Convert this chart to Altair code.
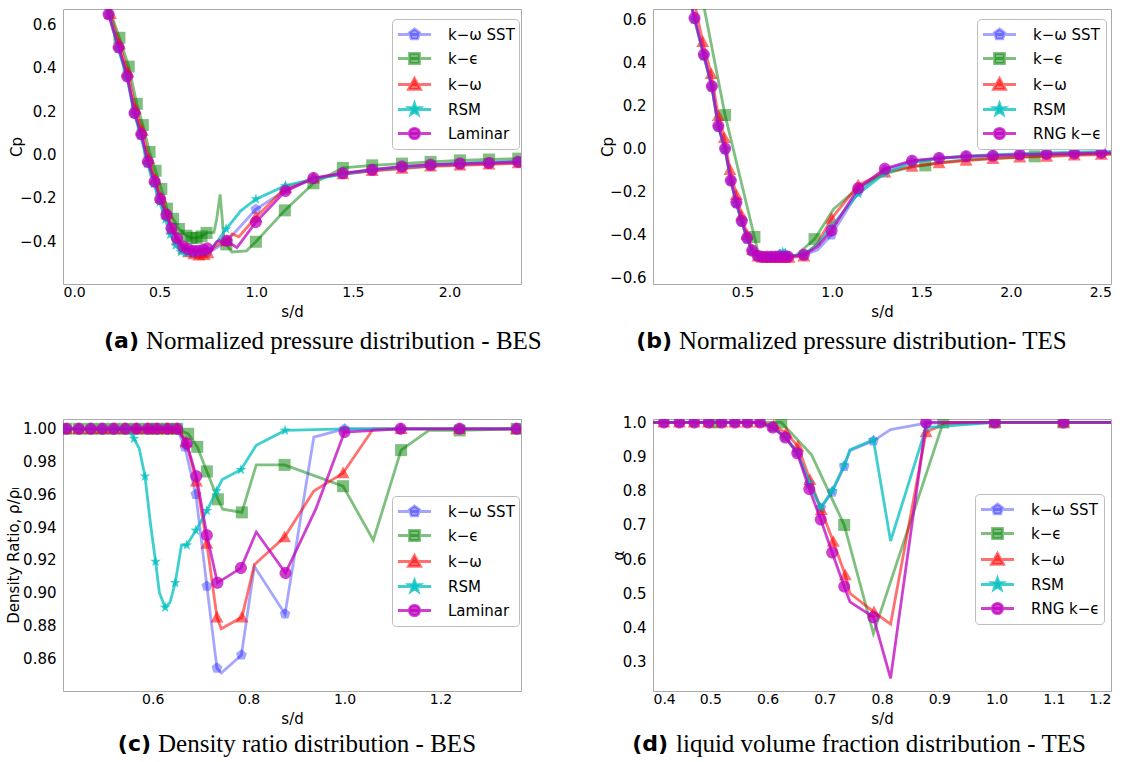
import altair as alt
import pandas as pd

# ---------------- Panel (a): Cp, BES ----------------
A_SST_X = [0.20, 0.236, 0.288, 0.332, 0.370, 0.405, 0.439, 0.474, 0.503, 0.535, 0.561, 0.590, 0.622, 0.648, 0.674, 0.700, 0.726, 0.747, 0.780, 0.847, 0.920, 0.998, 1.151, 1.296, 1.448, 1.600, 1.754, 1.902, 2.054, 2.204, 2.356, 2.40]
A_SST_Y = [0.76, 0.645, 0.490, 0.360, 0.190, 0.090, -0.040, -0.130, -0.210, -0.285, -0.350, -0.400, -0.435, -0.450, -0.455, -0.458, -0.455, -0.450, -0.440, -0.400, -0.330, -0.253, -0.165, -0.112, -0.090, -0.075, -0.062, -0.053, -0.047, -0.042, -0.038, -0.037]
A_SST_NOMARK = [0, 18, 20, 31]

A_KE_X = [0.20, 0.245, 0.292, 0.340, 0.382, 0.413, 0.448, 0.479, 0.509, 0.538, 0.570, 0.600, 0.639, 0.665, 0.691, 0.717, 0.743, 0.781, 0.795, 0.813, 0.833, 0.845, 0.874, 0.950, 0.998, 1.148, 1.296, 1.448, 1.600, 1.754, 1.902, 2.054, 2.204, 2.356, 2.40]
A_KE_Y = [0.85, 0.660, 0.539, 0.406, 0.234, 0.136, 0.012, -0.075, -0.159, -0.250, -0.297, -0.344, -0.375, -0.385, -0.385, -0.378, -0.362, -0.360, -0.300, -0.184, -0.390, -0.415, -0.450, -0.445, -0.403, -0.258, -0.133, -0.062, -0.050, -0.042, -0.034, -0.027, -0.023, -0.019, -0.018]
A_KE_NOMARK = [0, 1, 17, 18, 19, 20, 22, 23, 34]

A_KW_X = [0.20, 0.245, 0.292, 0.336, 0.375, 0.410, 0.443, 0.478, 0.507, 0.539, 0.565, 0.594, 0.626, 0.652, 0.678, 0.704, 0.730, 0.750, 0.780, 0.820, 0.849, 0.875, 0.910, 0.998, 1.151, 1.296, 1.448, 1.600, 1.754, 1.902, 2.054, 2.204, 2.356, 2.40]
A_KW_Y = [0.79, 0.650, 0.510, 0.380, 0.210, 0.110, -0.020, -0.115, -0.200, -0.275, -0.345, -0.395, -0.435, -0.450, -0.460, -0.465, -0.463, -0.455, -0.430, -0.405, -0.400, -0.367, -0.380, -0.290, -0.155, -0.110, -0.090, -0.075, -0.065, -0.055, -0.050, -0.045, -0.040, -0.039]
A_KW_NOMARK = [0, 18, 19, 21, 22, 33]

A_RSM_X = [0.20, 0.240, 0.285, 0.330, 0.368, 0.402, 0.436, 0.470, 0.500, 0.530, 0.555, 0.583, 0.610, 0.635, 0.660, 0.685, 0.710, 0.735, 0.760, 0.800, 0.844, 0.920, 0.998, 1.151, 1.296, 1.448, 1.600, 1.754, 1.902, 2.054, 2.204, 2.356, 2.40]
A_RSM_Y = [0.77, 0.645, 0.490, 0.360, 0.190, 0.090, -0.040, -0.135, -0.220, -0.300, -0.370, -0.420, -0.450, -0.455, -0.455, -0.452, -0.450, -0.445, -0.440, -0.400, -0.344, -0.260, -0.206, -0.144, -0.115, -0.090, -0.070, -0.058, -0.048, -0.040, -0.035, -0.030, -0.029]
A_RSM_NOMARK = [0, 18, 19, 21, 32]

A_LAM_X = [0.20, 0.236, 0.288, 0.332, 0.370, 0.405, 0.439, 0.474, 0.503, 0.535, 0.561, 0.590, 0.622, 0.648, 0.674, 0.700, 0.726, 0.747, 0.770, 0.795, 0.809, 0.830, 0.847, 0.900, 0.998, 1.151, 1.296, 1.448, 1.600, 1.754, 1.902, 2.054, 2.204, 2.356, 2.40]
A_LAM_Y = [0.76, 0.648, 0.495, 0.362, 0.192, 0.094, -0.034, -0.125, -0.206, -0.278, -0.341, -0.387, -0.425, -0.437, -0.445, -0.445, -0.440, -0.434, -0.437, -0.403, -0.398, -0.414, -0.398, -0.430, -0.312, -0.169, -0.109, -0.086, -0.070, -0.055, -0.047, -0.042, -0.039, -0.034, -0.033]
A_LAM_NOMARK = [0, 18, 19, 20, 21, 23, 34]

# ---------------- Panel (b): Cp, TES ----------------
B_SST_X = [0.20, 0.232, 0.284, 0.329, 0.365, 0.403, 0.435, 0.466, 0.496, 0.526, 0.554, 0.585, 0.610, 0.635, 0.660, 0.685, 0.710, 0.735, 0.755, 0.843, 0.920, 0.998, 1.147, 1.296, 1.448, 1.599, 1.750, 1.900, 2.050, 2.200, 2.355, 2.506, 2.56]
B_SST_Y = [0.71, 0.600, 0.430, 0.285, 0.100, -0.005, -0.150, -0.255, -0.340, -0.420, -0.476, -0.500, -0.503, -0.503, -0.503, -0.503, -0.490, -0.490, -0.500, -0.495, -0.470, -0.400, -0.200, -0.100, -0.060, -0.045, -0.037, -0.033, -0.029, -0.026, -0.023, -0.020, -0.020]
B_SST_NOMARK = [0, 20, 32]

B_KE_X = [0.27, 0.403, 0.567, 0.590, 0.650, 0.720, 0.800, 0.903, 1.010, 1.150, 1.300, 1.450, 1.522, 1.600, 1.750, 1.900, 2.050, 2.133, 2.200, 2.350, 2.500, 2.56]
B_KE_Y = [0.72, 0.155, -0.410, -0.490, -0.500, -0.500, -0.495, -0.420, -0.280, -0.180, -0.115, -0.085, -0.078, -0.065, -0.052, -0.045, -0.040, -0.036, -0.033, -0.028, -0.025, -0.024]
B_KE_NOMARK = [0, 3, 4, 5, 6, 8, 9, 10, 11, 13, 14, 15, 16, 18, 19, 20, 21]

B_KW_X = [0.22, 0.278, 0.325, 0.365, 0.399, 0.430, 0.466, 0.496, 0.526, 0.556, 0.587, 0.612, 0.637, 0.662, 0.687, 0.712, 0.737, 0.760, 0.843, 0.920, 0.998, 1.147, 1.296, 1.448, 1.599, 1.750, 1.900, 2.050, 2.200, 2.355, 2.506, 2.56]
B_KW_Y = [0.72, 0.495, 0.347, 0.152, 0.050, -0.098, -0.215, -0.310, -0.400, -0.470, -0.500, -0.505, -0.505, -0.505, -0.505, -0.505, -0.505, -0.505, -0.500, -0.440, -0.325, -0.170, -0.110, -0.083, -0.067, -0.056, -0.047, -0.040, -0.037, -0.031, -0.028, -0.027]
B_KW_NOMARK = [0, 19, 31]

B_RSM_X = [0.20, 0.232, 0.284, 0.329, 0.365, 0.403, 0.435, 0.466, 0.496, 0.526, 0.554, 0.585, 0.610, 0.635, 0.660, 0.685, 0.710, 0.725, 0.740, 0.770, 0.843, 0.920, 0.998, 1.147, 1.296, 1.448, 1.599, 1.750, 1.900, 2.050, 2.200, 2.355, 2.506, 2.56]
B_RSM_Y = [0.71, 0.600, 0.430, 0.285, 0.100, -0.005, -0.150, -0.255, -0.340, -0.420, -0.476, -0.500, -0.503, -0.503, -0.503, -0.500, -0.490, -0.480, -0.485, -0.500, -0.490, -0.445, -0.360, -0.210, -0.115, -0.065, -0.045, -0.035, -0.028, -0.024, -0.020, -0.017, -0.014, -0.013]
B_RSM_NOMARK = [0, 19, 21, 33]

B_RNG_X = [0.20, 0.232, 0.284, 0.329, 0.365, 0.403, 0.435, 0.466, 0.496, 0.526, 0.554, 0.585, 0.610, 0.635, 0.660, 0.685, 0.710, 0.735, 0.755, 0.843, 0.920, 0.998, 1.147, 1.296, 1.448, 1.599, 1.750, 1.900, 2.050, 2.200, 2.355, 2.506, 2.56]
B_RNG_Y = [0.72, 0.605, 0.436, 0.289, 0.105, 0.000, -0.148, -0.250, -0.336, -0.414, -0.473, -0.497, -0.502, -0.502, -0.502, -0.502, -0.502, -0.502, -0.502, -0.492, -0.455, -0.380, -0.184, -0.094, -0.056, -0.044, -0.036, -0.033, -0.028, -0.025, -0.023, -0.020, -0.020]
B_RNG_NOMARK = [0, 20, 32]

# ---------------- Panel (c): density ratio, BES ----------------
C_SST_X = [0.400, 0.420, 0.446, 0.471, 0.495, 0.519, 0.543, 0.566, 0.590, 0.609, 0.631, 0.651, 0.667, 0.690, 0.713, 0.734, 0.743, 0.785, 0.812, 0.876, 0.936, 1.000, 1.117, 1.240, 1.359, 1.370]
C_SST_Y = [1.0, 1.0, 1.0, 1.0, 1.0, 1.0, 1.0, 1.0, 1.0, 1.0, 1.0, 1.0, 0.989, 0.960, 0.904, 0.854, 0.851, 0.862, 0.916, 0.887, 0.995, 1.0, 1.0, 1.0, 1.0, 1.0]
C_SST_NOMARK = [0, 16, 18, 20, 25]

C_KE_X = [0.400, 0.420, 0.446, 0.471, 0.495, 0.519, 0.543, 0.566, 0.590, 0.609, 0.631, 0.651, 0.674, 0.693, 0.713, 0.736, 0.746, 0.786, 0.816, 0.875, 0.997, 1.060, 1.118, 1.176, 1.240, 1.359, 1.370]
C_KE_Y = [1.0, 1.0, 1.0, 1.0, 1.0, 1.0, 1.0, 1.0, 1.0, 1.0, 1.0, 1.0, 0.997, 0.989, 0.974, 0.957, 0.951, 0.949, 0.978, 0.978, 0.965, 0.932, 0.987, 0.999, 0.999, 1.0, 1.0]
C_KE_NOMARK = [0, 16, 18, 21, 23, 26]

C_KW_X = [0.400, 0.420, 0.446, 0.471, 0.495, 0.519, 0.543, 0.566, 0.590, 0.609, 0.631, 0.651, 0.670, 0.691, 0.713, 0.734, 0.743, 0.786, 0.812, 0.875, 0.936, 0.997, 1.060, 1.118, 1.240, 1.359, 1.370]
C_KW_Y = [1.0, 1.0, 1.0, 1.0, 1.0, 1.0, 1.0, 1.0, 1.0, 1.0, 1.0, 1.0, 0.992, 0.968, 0.930, 0.885, 0.878, 0.885, 0.917, 0.934, 0.962, 0.973, 1.0, 1.0, 1.0, 1.0, 1.0]
C_KW_NOMARK = [0, 16, 18, 20, 22, 26]

C_RSM_X = [0.400, 0.420, 0.446, 0.471, 0.495, 0.519, 0.543, 0.550, 0.561, 0.572, 0.584, 0.595, 0.606, 0.614, 0.626, 0.636, 0.647, 0.660, 0.671, 0.690, 0.713, 0.733, 0.745, 0.784, 0.816, 0.876, 1.000, 1.118, 1.240, 1.359, 1.370]
C_RSM_Y = [1.0, 1.0, 1.0, 1.0, 1.0, 1.0, 1.0, 1.0, 0.994, 0.988, 0.971, 0.943, 0.919, 0.900, 0.891, 0.894, 0.906, 0.929, 0.929, 0.938, 0.950, 0.962, 0.969, 0.975, 0.990, 0.999, 1.0, 1.0, 1.0, 1.0, 1.0]
C_RSM_NOMARK = [0, 7, 9, 11, 13, 15, 17, 22, 24, 30]

C_LAM_X = [0.400, 0.420, 0.446, 0.471, 0.495, 0.519, 0.543, 0.566, 0.590, 0.609, 0.631, 0.651, 0.671, 0.691, 0.713, 0.735, 0.784, 0.816, 0.877, 0.940, 1.000, 1.117, 1.240, 1.359, 1.370]
C_LAM_Y = [1.0, 1.0, 1.0, 1.0, 1.0, 1.0, 1.0, 1.0, 1.0, 1.0, 1.0, 1.0, 0.991, 0.971, 0.935, 0.906, 0.915, 0.937, 0.912, 0.951, 0.998, 1.0, 1.0, 1.0, 1.0]
C_LAM_NOMARK = [0, 17, 19, 24]

# ---------------- Panel (d): liquid volume fraction, TES ----------------
D_SST_X = [0.400, 0.419, 0.446, 0.472, 0.497, 0.520, 0.543, 0.565, 0.587, 0.609, 0.631, 0.652, 0.673, 0.693, 0.713, 0.734, 0.744, 0.785, 0.815, 0.877, 0.997, 1.117, 1.200]
D_SST_Y = [1.0, 1.0, 1.0, 1.0, 1.0, 1.0, 1.0, 1.0, 1.0, 0.985, 0.958, 0.912, 0.820, 0.749, 0.796, 0.871, 0.917, 0.946, 0.979, 0.998, 1.0, 1.0, 1.0]
D_SST_NOMARK = [0, 16, 18, 22]

D_KE_X = [0.400, 0.508, 0.605, 0.624, 0.677, 0.734, 0.785, 0.907, 0.997, 1.117, 1.200]
D_KE_Y = [1.0, 1.0, 1.0, 1.0, 0.905, 0.700, 0.382, 1.0, 1.0, 1.0, 1.0]
D_KE_NOMARK = [0, 2, 4, 6, 10]

D_KW_X = [0.400, 0.419, 0.446, 0.472, 0.497, 0.520, 0.543, 0.565, 0.587, 0.611, 0.633, 0.653, 0.674, 0.694, 0.715, 0.736, 0.744, 0.786, 0.815, 0.877, 0.909, 0.997, 1.117, 1.200]
D_KW_Y = [1.0, 1.0, 1.0, 1.0, 1.0, 1.0, 1.0, 1.0, 1.0, 0.990, 0.969, 0.930, 0.832, 0.744, 0.651, 0.553, 0.500, 0.445, 0.410, 0.972, 0.995, 1.0, 1.0, 1.0]
D_KW_NOMARK = [0, 16, 18, 20, 23]

D_RSM_X = [0.400, 0.419, 0.446, 0.472, 0.497, 0.520, 0.543, 0.565, 0.587, 0.609, 0.631, 0.652, 0.673, 0.693, 0.713, 0.734, 0.744, 0.785, 0.815, 0.877, 0.997, 1.117, 1.200]
D_RSM_Y = [1.0, 1.0, 1.0, 1.0, 1.0, 1.0, 1.0, 1.0, 1.0, 0.985, 0.958, 0.912, 0.824, 0.751, 0.800, 0.875, 0.920, 0.949, 0.653, 0.985, 1.0, 1.0, 1.0]
D_RSM_NOMARK = [0, 16, 18, 22]

D_RNG_X = [0.400, 0.419, 0.446, 0.472, 0.497, 0.520, 0.543, 0.565, 0.587, 0.609, 0.631, 0.652, 0.673, 0.693, 0.713, 0.734, 0.744, 0.785, 0.815, 0.877, 0.997, 1.117, 1.200]
D_RNG_Y = [1.0, 1.0, 1.0, 1.0, 1.0, 1.0, 1.0, 1.0, 1.0, 0.985, 0.956, 0.910, 0.805, 0.716, 0.619, 0.520, 0.475, 0.430, 0.251, 1.0, 1.0, 1.0, 1.0]
D_RNG_NOMARK = [0, 16, 18, 22]

# ---------------- labels ----------------
NAMES_BES = ["k\u2212\u03c9 SST", "k\u2212\u03f5", "k\u2212\u03c9", "RSM", "Laminar"]
NAMES_TES = ["k\u2212\u03c9 SST", "k\u2212\u03f5", "k\u2212\u03c9", "RSM", "RNG k\u2212\u03f5"]

# ---------------- styles ----------------
COLORS = ["rgba(0,0,255,0.35)", "rgba(0,128,0,0.5)", "rgba(255,0,0,0.56)",
          "rgba(0,191,191,0.75)", "rgba(191,0,191,0.75)"]
PENT = "M0,-1L0.951,-0.309L0.588,0.809L-0.588,0.809L-0.951,-0.309Z"
SQUARE = "M-1,-1H1V1H-1Z"
TRI = "M0,-1L1,0.8L-1,0.8Z"
STAR = ("M0,-1L0.235,-0.324L0.951,-0.309L0.38,0.124L0.588,0.809L0,0.4"
        "L-0.588,0.809L-0.38,0.124L-0.951,-0.309L-0.235,-0.324Z")
CIRCLE = "M1,0A1,1,0,1,1,-1,0A1,1,0,1,1,1,0Z"
SHAPES = [PENT, SQUARE, TRI, STAR, CIRCLE]
SIZES = [130, 144, 169, 130, 144]

LINE = "M-1.65,0H1.65"
LEG_SHAPES = [
    LINE + "M0,-0.55L0.523,-0.17L0.323,0.445L-0.323,0.445L-0.523,-0.17Z",
    LINE + "M-0.5,-0.5H0.5V0.5H-0.5Z",
    LINE + "M0,-0.6L0.6,0.48L-0.6,0.48Z",
    LINE + ("M0,-0.6L0.141,-0.194L0.571,-0.185L0.228,0.074L0.353,0.485L0,0.24"
            "L-0.353,0.485L-0.228,0.074L-0.571,-0.185L-0.141,-0.194Z"),
    LINE + "M0.52,0A0.52,0.52,0,1,1,-0.52,0A0.52,0.52,0,1,1,0.52,0Z",
]

W, H_TOP, H_BOT = 458, 275, 272


def panel(series, names, xdom, xticks, xfmt, ydom, yticks, yfmt, ytitle, ytitle_x,
          h, leg_xy, tag, caption, tag_x, cap_x, cap_y):
    xs = alt.Scale(domain=xdom, nice=False, zero=False)
    ys = alt.Scale(domain=ydom, nice=False, zero=False)
    xax = alt.Axis(values=xticks, format=xfmt, title="s/d", domain=False, ticks=False,
                   grid=False, labelPadding=1, labelFontSize=14,
                   titleY=27, titleBaseline="middle")
    yax = alt.Axis(values=yticks, format=yfmt, title=ytitle, domain=False, ticks=False,
                   grid=False, labelPadding=7, titleX=ytitle_x, titleBaseline="middle")
    layers = []
    for (x, y, nomark), color, shape, size in zip(series, COLORS, SHAPES, SIZES):
        df = pd.DataFrame({"x": x, "y": y,
                           "m": [0 if i in nomark else 1 for i in range(len(x))]})
        base = alt.Chart(df).encode(x=alt.X("x:Q", scale=xs, axis=xax),
                                    y=alt.Y("y:Q", scale=ys, axis=yax))
        layers.append(base.mark_line(clip=True, color=color, strokeWidth=2.8))
        layers.append(base.transform_filter("datum.m == 1").mark_point(
            clip=True, filled=True, shape=shape, size=size, color=color,
            opacity=1, strokeWidth=0))
    # hidden anchor points (outside the axes, clipped) that carry the legend
    leg_df = pd.DataFrame({"name": names, "x": [xdom[0] - 1.0] * len(names),
                           "y": [ydom[0] - 1.0] * len(names)})
    leg = alt.Legend(orient="none", legendX=leg_xy[0], legendY=leg_xy[1], title=None,
                     fillColor="white", strokeColor="#bdbdbd", cornerRadius=4, padding=4,
                     labelFont="DejaVu Sans", labelFontSize=15, labelColor="black",
                     symbolSize=400, symbolStrokeWidth=2.8, symbolOffset=7,
                     labelOffset=22, rowPadding=2)
    layers.append(alt.Chart(leg_df).mark_point(clip=True, filled=True, opacity=1).encode(
        x=alt.X("x:Q", scale=xs, axis=xax),
        y=alt.Y("y:Q", scale=ys, axis=yax),
        fill=alt.Fill("name:N", scale=alt.Scale(domain=names, range=COLORS), legend=leg, sort=names),
        stroke=alt.Stroke("name:N", scale=alt.Scale(domain=names, range=COLORS), legend=leg, sort=names),
        shape=alt.Shape("name:N", scale=alt.Scale(domain=names, range=LEG_SHAPES), legend=leg, sort=names),
    ))
    # caption below the panel
    layers.append(alt.Chart(pd.DataFrame({"t": [tag]})).mark_text(
        align="right", baseline="middle", font="DejaVu Sans", fontWeight="bold",
        fontSize=22, color="black").encode(text="t:N", x=alt.value(tag_x), y=alt.value(cap_y)))
    layers.append(alt.Chart(pd.DataFrame({"t": [caption]})).mark_text(
        align="left", baseline="middle", font="Liberation Serif",
        fontSize=25, color="black").encode(text="t:N", x=alt.value(cap_x), y=alt.value(cap_y)))
    return alt.layer(*layers).properties(width=W, height=h)


pa = panel([(A_SST_X, A_SST_Y, A_SST_NOMARK), (A_KE_X, A_KE_Y, A_KE_NOMARK),
            (A_KW_X, A_KW_Y, A_KW_NOMARK), (A_RSM_X, A_RSM_Y, A_RSM_NOMARK),
            (A_LAM_X, A_LAM_Y, A_LAM_NOMARK)],
           NAMES_BES, [0.0, 2.37], [0.0, 0.5, 1.0, 1.5, 2.0], ".1f",
           [-0.598, 0.672], [-0.4, -0.2, 0.0, 0.2, 0.4, 0.6], ".1f", "Cp", -47,
           H_TOP, (329, 10), "(a)", "Normalized pressure distribution - BES", 76, 83, 332)

pb = panel([(B_SST_X, B_SST_Y, B_SST_NOMARK), (B_KE_X, B_KE_Y, B_KE_NOMARK),
            (B_KW_X, B_KW_Y, B_KW_NOMARK), (B_RSM_X, B_RSM_Y, B_RSM_NOMARK),
            (B_RNG_X, B_RNG_Y, B_RNG_NOMARK)],
           NAMES_TES, [0.0, 2.56], [0.5, 1.0, 1.5, 2.0, 2.5], ".1f",
           [-0.628, 0.647], [-0.6, -0.4, -0.2, 0.0, 0.2, 0.4, 0.6], ".1f", "Cp", -46,
           H_TOP, (324, 10), "(b)", "Normalized pressure distribution- TES", 19, 26, 332)

pc = panel([(C_SST_X, C_SST_Y, C_SST_NOMARK), (C_KE_X, C_KE_Y, C_KE_NOMARK),
            (C_KW_X, C_KW_Y, C_KW_NOMARK), (C_RSM_X, C_RSM_Y, C_RSM_NOMARK),
            (C_LAM_X, C_LAM_Y, C_LAM_NOMARK)],
           NAMES_BES, [0.413, 1.368], [0.6, 0.8, 1.0, 1.2], ".1f",
           [0.84, 1.006], [0.86, 0.88, 0.90, 0.92, 0.94, 0.96, 0.98, 1.00], ".2f",
           "Density Ratio, \u03c1/\u03c1\u2097", -50,
           H_BOT, (329, 77), "(c)", "Density ratio distribution - BES", 88, 95, 325)

pd_ = panel([(D_SST_X, D_SST_Y, D_SST_NOMARK), (D_KE_X, D_KE_Y, D_KE_NOMARK),
             (D_KW_X, D_KW_Y, D_KW_NOMARK), (D_RSM_X, D_RSM_Y, D_RSM_NOMARK),
             (D_RNG_X, D_RNG_Y, D_RNG_NOMARK)],
            NAMES_TES, [0.4, 1.2], [0.4, 0.5, 0.6, 0.7, 0.8, 0.9, 1.0, 1.1, 1.2], ".1f",
            [0.214, 1.01], [0.3, 0.4, 0.5, 0.6, 0.7, 0.8, 0.9, 1.0], ".1f", "\u03b1", -35,
            H_BOT, (322, 75), "(d)", "liquid volume fraction distribution - TES", 15, 23, 325)

chart = alt.concat(pa, pb, pc, pd_, columns=2, spacing={"row": 135, "column": 132},
                   bounds="flush").properties(
    padding={"left": 5, "top": 8, "right": 5, "bottom": 5}
).resolve_scale(x="independent", y="independent", fill="independent",
                stroke="independent", shape="independent").configure_view(
    stroke="#aaaaaa", strokeWidth=1
).configure_axis(
    labelFont="DejaVu Sans", labelFontSize=15, labelColor="black",
    titleFont="DejaVu Sans", titleFontSize=15, titleFontWeight="normal", titleColor="black"
)

chart.save("out.html", embed_options={"renderer": "svg", "actions": False})
